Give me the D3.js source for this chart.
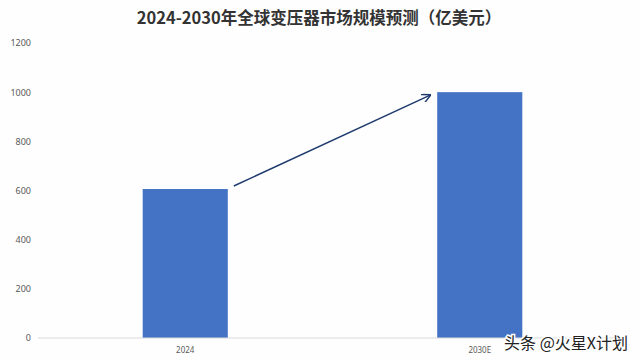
<!DOCTYPE html>
<html><head><meta charset="utf-8">
<script src="https://cdn.jsdelivr.net/npm/d3@7"></script>
<style>body{margin:0;background:#fff}svg{display:block}</style>
</head><body>
<svg id="c" width="640" height="361"></svg>
<script>
const categories = ["2024", "2030E"];
const values = [606, 1000];
const yTicks = [0, 200, 400, 600, 800, 1000, 1200];
const title = "2024-2030年全球变压器市场规模预测（亿美元）";
const credit = "头条 @火星X计划";

const svg = d3.select("#c");
const W = 640, H = 361;
const m = {left: 38, right: 13, top: 43, bottom: 23};
const x = d3.scaleBand().domain(categories).range([m.left, W - m.right]).paddingInner(0.711).paddingOuter(0.3555);
const y = d3.scaleLinear().domain([0, 1200]).range([H - m.bottom, m.top]);

svg.append("rect").attr("width", W).attr("height", H).attr("fill", "#fefefe");

svg.append("text").attr("x", 319).attr("y", 24).attr("text-anchor", "middle")
  .attr("font-family", "'Noto Sans CJK SC', sans-serif").attr("font-weight", "bold")
  .attr("font-size", 16.5).attr("fill", "#333").text(title);

const ya = svg.append("g").attr("transform", `translate(${m.left},0)`)
  .call(d3.axisLeft(y).tickValues(yTicks).tickFormat(d3.format("d")).tickSize(0).tickPadding(7));
ya.select(".domain").remove();
ya.selectAll("text").attr("font-family", "'Noto Sans', sans-serif").attr("font-size", 9).attr("fill", "#595959");

svg.append("g").selectAll("rect").data(categories).join("rect")
  .attr("x", d => x(d)).attr("width", x.bandwidth())
  .attr("y", (d, i) => y(values[i])).attr("height", (d, i) => y(0) - y(values[i]))
  .attr("fill", "#4472c4");

const xa = svg.append("g").attr("transform", `translate(0,${y(0)})`)
  .call(d3.axisBottom(x).tickSize(0).tickPadding(9));
xa.select(".domain").attr("stroke", "#d9d9d9").attr("d", `M${m.left},0H${W - m.right}`);
xa.selectAll("text").attr("font-family", "'Noto Sans', sans-serif").attr("font-size", 8).attr("fill", "#595959");

// arrow
const defs = svg.append("defs");
defs.append("marker").attr("id", "ah").attr("viewBox", "0 0 10 10").attr("refX", 9).attr("refY", 5)
  .attr("markerWidth", 9).attr("markerHeight", 9).attr("orient", "auto").attr("markerUnits", "userSpaceOnUse")
  .append("path").attr("d", "M0,0L10,5L0,10").attr("fill", "none").attr("stroke", "#1f3b6e").attr("stroke-width", 1.6);
const x1 = x(categories[0]) + x.bandwidth() + 6, y1 = y(values[0]) - 3;
const x2 = x(categories[1]) - 7, y2 = y(values[1]) + 3;
svg.append("line").attr("x1", x1).attr("y1", y1).attr("x2", x2).attr("y2", y2)
  .attr("stroke", "#1f3b6e").attr("stroke-width", 1.5).attr("marker-end", "url(#ah)");

svg.append("text").attr("x", 628).attr("y", 349).attr("text-anchor", "end")
  .attr("font-family", "'Noto Sans CJK SC', sans-serif").attr("font-size", 16)
  .attr("fill", "#222").attr("stroke", "#fff").attr("stroke-width", 3).attr("paint-order", "stroke")
  .text(credit);
</script>
</body></html>
